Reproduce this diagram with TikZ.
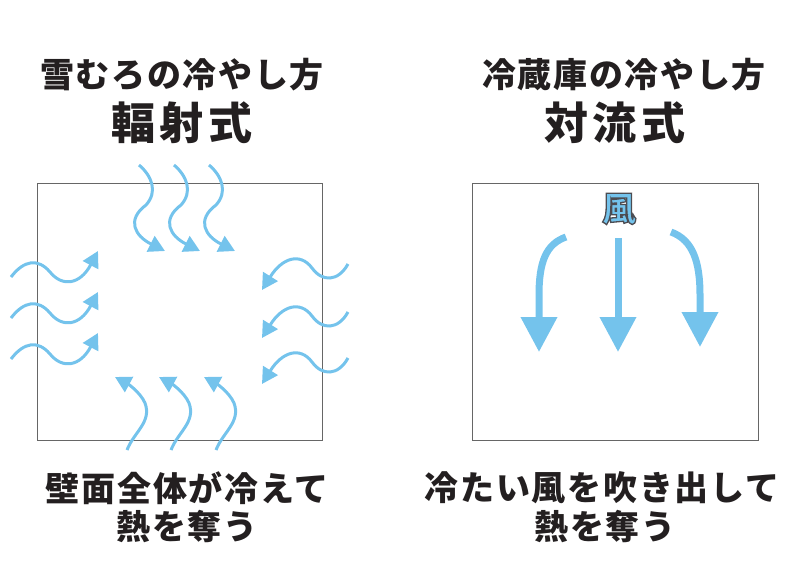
\documentclass[tikz,border=0pt]{standalone}
\usepackage{fontspec}
\newfontfamily\jp{Noto Sans CJK JP}[LetterSpace=5, BoldFont={Noto Sans CJK JP Black}]
\usetikzlibrary{arrows.meta}

\definecolor{wind}{HTML}{74C3EC}
\definecolor{ink}{HTML}{231F20}

\tikzset{
  wave/.style={wind, line width=3pt, -{Triangle[length=16pt,width=17pt]}},
  blow/.style={wind, line width=7pt, -{Triangle[length=35pt,width=35pt]}},
  room/.style={draw=black!60, line width=0.9pt},
  head/.style={ink, inner sep=0pt, font=\jp\bfseries\fontsize{34}{34}\selectfont},
  big/.style={ink, inner sep=0pt, font=\jp\bfseries\fontsize{44}{44}\selectfont\addfontfeature{LetterSpace=10}},
  kaze/.style={inner sep=0pt, text=wind, font=\jp\bfseries\fontsize{34}{34}\selectfont},
}
% outlined glyph: fill + stroke
\newcommand{\rimtext}[1]{\special{pdf:literal direct 0.3 0.3 0.32 RG 1.3 w 2 Tr}#1\special{pdf:literal direct 0 Tr}}

\begin{document}
\begin{tikzpicture}[x=1pt, y=-1pt]
  \useasboundingbox (0,0) rectangle (800,568);

  % titles
  \node[head] (snowtitle) at (182,75) {雪むろの冷やし方};
  \node[big] (snowtype) at (182,123) {輻射式};
  \node[head] (fridgetitle) at (624,75) {冷蔵庫の冷やし方};
  \node[big] (fridgetype) at (615,123) {対流式};

  % the two rooms
  \draw[room] (37,183) rectangle (322,440);
  \draw[room] (472,183) rectangle (758,440);

  % snow room: cold comes in from every wall
  \foreach \d in {0, 35, 70} {
    \draw[wave, xshift=\d] (139,165) .. controls (152,176) and (158,192) .. (146,205)
      .. controls (126,220) and (135,236) .. (165,251);
  }
  \foreach \d in {0, 44, 89} {
    \draw[wave, xshift=\d] (127,450) .. controls (134,432) and (152,422) .. (145,403)
      .. controls (140,392) and (128,384) .. (115,377);
  }
  \foreach \d in {0, 41, 82} {
    \draw[wave, yshift=-\d] (11,277) .. controls (24,260) and (38,258) .. (50,272)
      .. controls (62,287) and (80,285) .. (98,251);
  }
  \foreach \d in {0, 48, 94} {
    \draw[wave, yshift=-\d] (348,264) .. controls (338,282) and (322,282) .. (312,268)
      .. controls (300,252) and (282,258) .. (262,290);
  }

  % fridge: wind blown out from the top
  \node[kaze] (windchar) at (619,209) {\rimtext{風}};
  \draw[blow] (618,238) -- (618,352);
  \draw[blow] (566,237) .. controls (546,244) and (539,262) .. (539,295) -- (539,352);
  \draw[blow] (671,232) .. controls (693,240) and (700,262) .. (700,295) -- (700,347);

  % what happens
  \node[head] (snowtext) at (187,488) {壁面全体が冷えて};
  \node[head] (snowheat) at (187,527) {熱を奪う};
  \node[head] (fridgetext) at (602,488) {冷たい風を吹き出して};
  \node[head] (fridgeheat) at (605,527) {熱を奪う};
\end{tikzpicture}
\end{document}
